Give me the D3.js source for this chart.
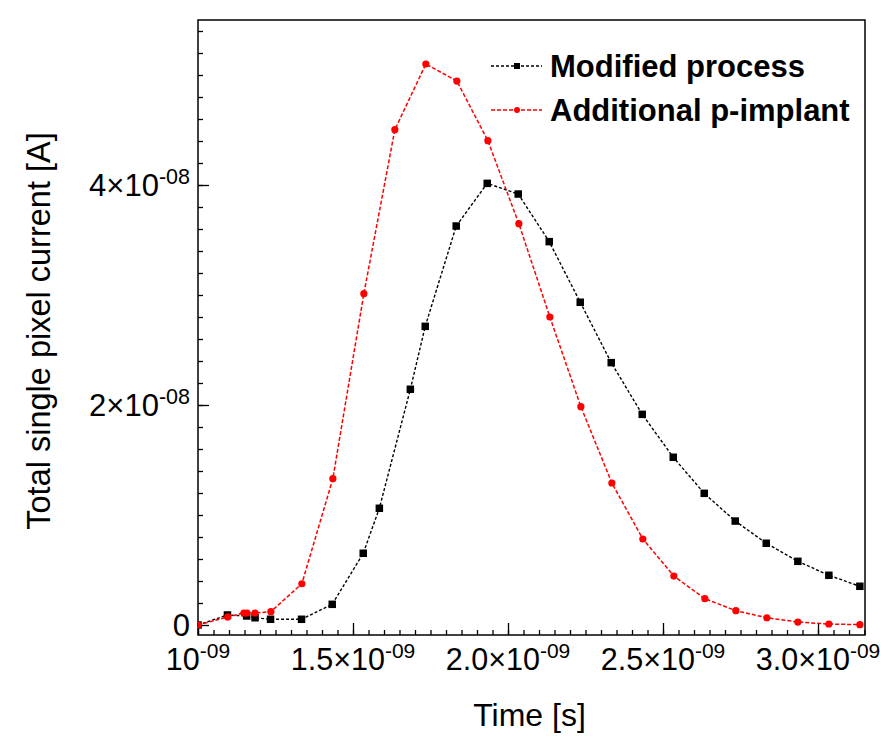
<!DOCTYPE html>
<html lang="en">
<head>
  <meta charset="UTF-8">
  <title>Total single pixel current</title>
  <style>
    body { margin: 0; background: #fff; }
    svg text { font-family: "Liberation Sans", Arial, sans-serif; fill: #000; }
  </style>
</head>
<body>
  <svg id="svg" width="885" height="755"></svg>
  <script src="https://d3js.org/d3.v7.min.js"></script>
  <script>
    // time in ns, current in units of 1e-8 A
    const timeModified = [1.0, 1.095, 1.157, 1.184, 1.234, 1.334, 1.433, 1.533, 1.585, 1.685, 1.733, 1.833, 1.933,
      2.033, 2.133, 2.233, 2.333, 2.433, 2.533, 2.633, 2.733, 2.833, 2.935, 3.035, 3.135]
    const currentModified = [0.0, 0.091, 0.082, 0.066, 0.052, 0.052, 0.188, 0.652, 1.061, 2.143, 2.715, 3.627, 4.015,
      3.918, 3.485, 2.934, 2.385, 1.915, 1.525, 1.197, 0.945, 0.743, 0.579, 0.452, 0.352]

    const timeImplant = [1.0, 1.096, 1.148, 1.158, 1.184, 1.235, 1.335, 1.435, 1.535, 1.635, 1.735, 1.835, 1.935,
      2.035, 2.135, 2.235, 2.335, 2.435, 2.535, 2.635, 2.735, 2.835, 2.935, 3.035, 3.135]
    const currentImplant = [0.0, 0.073, 0.109, 0.109, 0.109, 0.121, 0.375, 1.330, 3.012, 4.503, 5.100, 4.945, 4.403,
      3.648, 2.800, 1.985, 1.291, 0.782, 0.445, 0.239, 0.130, 0.066, 0.027, 0.009, 0.003]

    const seriesNames = ['Modified process', 'Additional p-implant']

    const xTickValues = [1.0, 1.5, 2.0, 2.5, 3.0]
    const xTickMantissa = ['', '1.5', '2.0', '2.5', '3.0']
    const xTickExponent = '-09'
    const yTickValues = [0, 2, 4]
    const yTickMantissa = ['0', '2', '4']
    const yTickExponent = '-08'

    const margin = { top: 20, right: 20, bottom: 120, left: 198 }
    const width = 885 - margin.left - margin.right
    const height = 755 - margin.top - margin.bottom

    const xscale = d3.scaleLinear()
      .domain([1.0, 3.1516])
      .range([0, width])

    const yscale = d3.scaleLinear()
      .domain([-0.0909, 5.5])
      .range([height, 0])

    const svg = d3.select('#svg')
    const g = svg.append('g')
      .attr('transform', `translate(${margin.left}, ${margin.top})`)

    g.append('clipPath').attr('id', 'clip')
      .append('rect').attr('width', width).attr('height', height)

    // minor + major ticks, pointing inward
    const minorX = d3.range(1.0, 3.151, 0.05)
    const minorY = d3.range(0, 5.41, 0.2)

    g.append('g')
      .attr('transform', `translate(0, ${height})`)
      .call(d3.axisBottom(xscale).tickValues(minorX).tickSize(-5).tickFormat(''))
    g.append('g')
      .attr('transform', `translate(0, ${height})`)
      .call(d3.axisBottom(xscale).tickValues(xTickValues).tickSize(-12).tickFormat(''))
    g.append('g')
      .call(d3.axisLeft(yscale).tickValues(minorY).tickSize(-5).tickFormat(''))
    g.append('g')
      .call(d3.axisLeft(yscale).tickValues(yTickValues).tickSize(-11).tickFormat(''))

    g.selectAll('.domain').remove()
    g.selectAll('.tick line').attr('stroke', '#000').attr('stroke-width', 1.3)

    // frame
    g.append('rect')
      .attr('width', width)
      .attr('height', height)
      .attr('fill', 'none')
      .attr('stroke', '#000')
      .attr('stroke-width', 1.5)

    // x tick labels
    xTickValues.forEach((v, i) => {
      const t = g.append('text')
        .attr('x', xscale(v))
        .attr('y', height + 35)
        .attr('text-anchor', 'middle')
        .style('font-size', '30.5px')
      t.append('tspan').text(xTickMantissa[i] === '' ? '10' : xTickMantissa[i] + '×10')
      t.append('tspan').attr('dy', -12).style('font-size', '21px').text(xTickExponent)
    })

    // y tick labels
    yTickValues.forEach((v, i) => {
      const t = g.append('text')
        .attr('x', -8)
        .attr('y', yscale(v) + 11)
        .attr('text-anchor', 'end')
        .style('font-size', '31px')
      if (v === 0) {
        t.text(yTickMantissa[i])
      } else {
        t.append('tspan').text(yTickMantissa[i] + '×10')
        t.append('tspan').attr('dy', -12).style('font-size', '21.5px').text(yTickExponent)
      }
    })

    // axis titles
    svg.append('text')
      .attr('x', margin.left + width / 2 - 2)
      .attr('y', 726)
      .attr('text-anchor', 'middle')
      .style('font-size', '32px')
      .text('Time [s]')

    svg.append('text')
      .attr('transform', `translate(50, ${margin.top + 311}) rotate(-90)`)
      .attr('text-anchor', 'middle')
      .style('font-size', '32.5px')
      .text('Total single pixel current [A]')

    const line = d3.line()
      .x(d => xscale(d[0]))
      .y(d => yscale(d[1]))

    const modified = timeModified.map((t, i) => [t, currentModified[i]])
    const implant = timeImplant.map((t, i) => [t, currentImplant[i]])

    const plot = g.append('g').attr('clip-path', 'url(#clip)')

    plot.append('path')
      .datum(modified)
      .attr('d', line)
      .attr('fill', 'none')
      .attr('stroke', '#000')
      .attr('stroke-width', 1.4)
      .attr('stroke-dasharray', '3,2')

    plot.selectAll('.sq')
      .data(modified)
      .enter()
      .append('rect')
      .attr('class', 'sq')
      .attr('x', d => xscale(d[0]) - 3.75)
      .attr('y', d => yscale(d[1]) - 3.75)
      .attr('width', 7.5)
      .attr('height', 7.5)
      .attr('fill', '#000')

    plot.append('path')
      .datum(implant)
      .attr('d', line)
      .attr('fill', 'none')
      .attr('stroke', '#ff0000')
      .attr('stroke-width', 1.5)
      .attr('stroke-dasharray', '4,2')

    plot.selectAll('.dot')
      .data(implant)
      .enter()
      .append('circle')
      .attr('class', 'dot')
      .attr('cx', d => xscale(d[0]))
      .attr('cy', d => yscale(d[1]))
      .attr('r', 3.6)
      .attr('fill', '#ff0000')

    // legend
    const legend = svg.append('g')
    const legendColors = ['#000', '#ff0000']
    seriesNames.forEach((name, i) => {
      const y = 66 + i * 44
      legend.append('line')
        .attr('x1', 491).attr('x2', 542)
        .attr('y1', y).attr('y2', y)
        .attr('stroke', legendColors[i])
        .attr('stroke-width', 1.4)
        .attr('stroke-dasharray', i === 0 ? '3,2' : '4,2')
      if (i === 0) {
        legend.append('rect')
          .attr('x', 514).attr('y', y - 3)
          .attr('width', 6).attr('height', 6)
          .attr('fill', legendColors[i])
      } else {
        legend.append('circle')
          .attr('cx', 517).attr('cy', y)
          .attr('r', 3)
          .attr('fill', legendColors[i])
      }
      legend.append('text')
        .attr('x', 550)
        .attr('y', y + 11)
        .style('font-size', '31px')
        .style('font-weight', 'bold')
        .text(name)
    })
  </script>
</body>
</html>
